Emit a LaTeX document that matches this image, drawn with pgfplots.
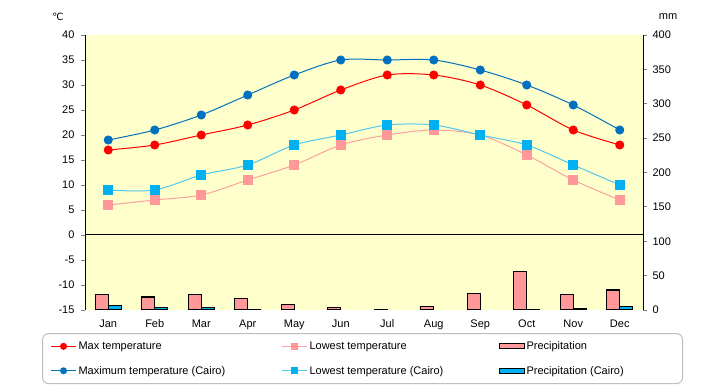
\documentclass[border=0pt]{standalone}
\usepackage{pgfplots}
\pgfplotsset{compat=1.18}
\usepackage{fontspec}
\setmainfont{Liberation Sans}
\newfontfamily\dejavu{DejaVu Sans}
\definecolor{bgyel}{RGB}{255,255,204}
\definecolor{cred}{RGB}{255,0,0}
\definecolor{cdblue}{RGB}{0,112,192}
\definecolor{cpink}{RGB}{255,153,153}
\definecolor{clblue}{RGB}{0,176,240}
\definecolor{clbline}{RGB}{80,200,240}
\definecolor{cpinkline}{RGB}{255,160,160}
\begin{document}
\begin{tikzpicture}[x=1pt,y=1pt,font=\fontsize{11}{13}\selectfont]
\useasboundingbox (0,0) rectangle (720,385);
% precipitation axis (right)
\begin{axis}[
  at={(85pt,75pt)}, anchor=south west,
  width=558pt, height=275pt, scale only axis,
  xmin=-0.5, xmax=11.5, ymin=0, ymax=400,
  axis background/.style={fill=bgyel},
  axis x line=none,
  axis y line*=right,
  y axis line style={line width=1pt},
  ytick={0,50,...,400},
  tick align=outside, major tick length=4pt,
  ytick style={line width=0.8pt},
  yticklabel style={xshift=2pt},
  /pgf/number format/assume math mode=true,
  ybar, bar width=13pt,
]
\addplot[fill=cpink, draw=black, line width=1.2pt, bar shift=-6.5pt] coordinates {
 (0,23) (1,19) (2,23) (3,17) (4,8) (5,4) (6,1) (7,5) (8,24) (9,56) (10,23) (11,29)};
\addplot[fill=clblue, draw=black, line width=1.2pt, bar shift=6.5pt] coordinates {
 (0,7) (1,4) (2,4) (3,1) (9,1) (10,2) (11,5)};
\end{axis}
% temperature axis (left)
\begin{axis}[
  at={(85pt,75pt)}, anchor=south west,
  width=558pt, height=275pt, scale only axis,
  xmin=-0.5, xmax=11.5, ymin=-15, ymax=40,
  separate axis lines,
  axis x line*=bottom, axis y line*=left,
  x axis line style={draw=none},
  y axis line style={line width=1pt},
  xtick={0,...,11},
  xticklabels={Jan,Feb,Mar,Apr,May,Jun,Jul,Aug,Sep,Oct,Nov,Dec},
  xtick style={draw=none},
  xticklabel style={yshift=-2pt},
  ytick={-15,-10,...,40},
  tick align=outside, major tick length=4pt,
  ytick style={line width=0.8pt},
  yticklabel style={xshift=-3pt},
  /pgf/number format/assume math mode=true,
  legend columns=3,
  legend cell align=left,
  legend image code/.code={\draw[sharp corners,mark repeat=2,mark phase=2,#1,mark size=3pt] plot coordinates {(0pt,0pt)(12.5pt,0pt)(25pt,0pt)};},
  legend style={at={(-0.077,-0.084)}, anchor=north west,
    draw=gray!50, line width=1pt, rounded corners=6pt, fill=white,
    inner xsep=8pt, inner ysep=6pt, row sep=11pt,
    font=\fontsize{11}{13}\selectfont},
]
\addplot[black, line width=1pt, forget plot] coordinates {(-0.5,0) (11.5,0)};
\addplot[cred, line width=1pt, smooth, mark=*, mark size=4pt, mark options={fill=cred, draw=cred}] coordinates {
 (0,17) (1,18) (2,20) (3,22) (4,25) (5,29) (6,32) (7,32) (8,30) (9,26) (10,21) (11,18)};
\addlegendentry{\makebox[201pt][l]{Max temperature}}
\addplot[cpinkline, line width=1pt, smooth, mark=square*, mark size=4.5pt, mark options={fill=cpink, draw=cpink}] coordinates {
 (0,6) (1,7) (2,8) (3,11) (4,14) (5,18) (6,20) (7,21) (8,20) (9,16) (10,11) (11,7)};
\addlegendentry{\makebox[187pt][l]{Lowest temperature}}
\addlegendimage{legend image code/.code={\draw[sharp corners,fill=cpink,draw=black,line width=1pt] (0pt,-2.5pt) rectangle (25pt,2.5pt);}}
\addlegendentry{\makebox[146pt][l]{Precipitation}}
\addplot[cdblue, line width=1pt, smooth, mark=*, mark size=4pt, mark options={fill=cdblue, draw=cdblue}] coordinates {
 (0,19) (1,21) (2,24) (3,28) (4,32) (5,35) (6,35) (7,35) (8,33) (9,30) (10,26) (11,21)};
\addlegendentry{Maximum temperature (Cairo)}
\addplot[clbline, line width=1pt, smooth, mark=square*, mark size=4.5pt, mark options={fill=clblue, draw=clblue}] coordinates {
 (0,9) (1,9) (2,12) (3,14) (4,18) (5,20) (6,22) (7,22) (8,20) (9,18) (10,14) (11,10)};
\addlegendentry{Lowest temperature (Cairo)}
\addlegendimage{legend image code/.code={\draw[sharp corners,fill=clblue,draw=black,line width=1pt] (0pt,-2.5pt) rectangle (25pt,2.5pt);}}
\addlegendentry{Precipitation (Cairo)}
\end{axis}
\node at (58,368) {{\dejavu\fontsize{10}{12}\selectfont ℃}};
\node at (668,368) {mm};
\end{tikzpicture}
\end{document}
